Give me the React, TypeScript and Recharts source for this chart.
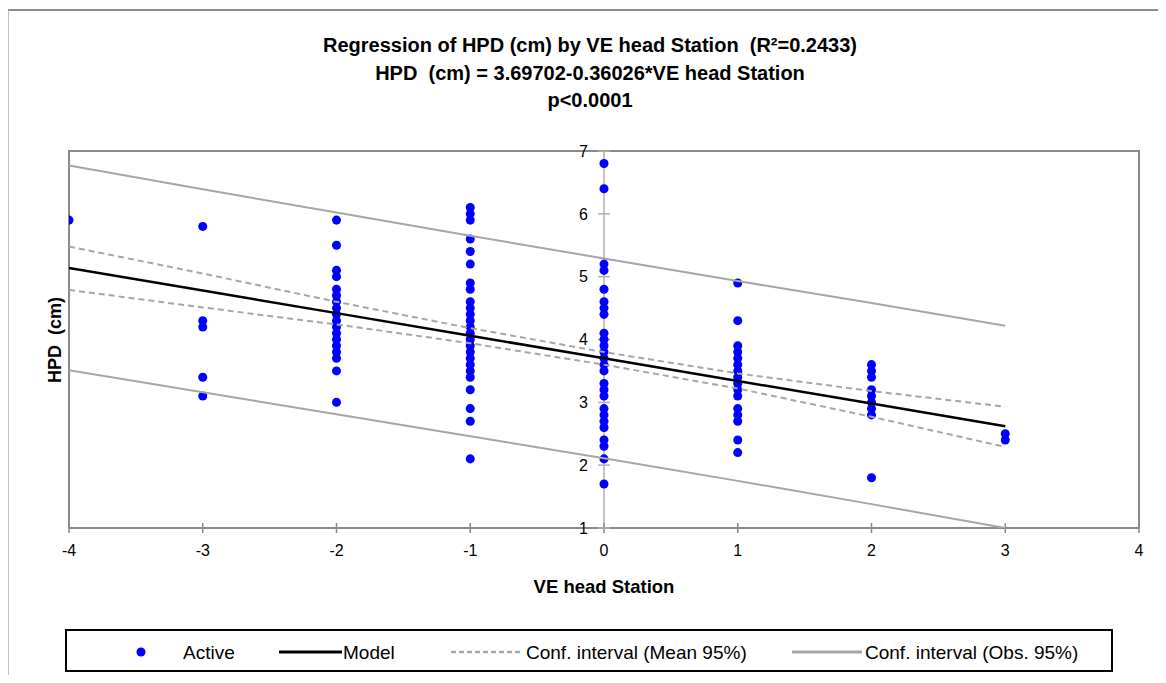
import React from 'react'
import {
  ScatterChart,
  Scatter,
  XAxis,
  YAxis,
  ZAxis,
  ReferenceArea,
  ReferenceLine,
  ReferenceDot,
} from 'recharts'

// HPD readings grouped by VE head station
const stations = [-4, -3, -2, -1, 0, 1, 2, 3]
const hpdAtM4 = [5.9]
const hpdAtM3 = [5.8, 4.3, 4.2, 3.4, 3.1]
const hpdAtM2 = [5.9, 5.5, 5.1, 5.0, 4.8, 4.7, 4.6, 4.5, 4.4, 4.3, 4.2, 4.1, 4.0, 3.9, 3.8, 3.7, 3.5, 3.0]
const hpdAtM1 = [6.1, 6.0, 5.9, 5.6, 5.4, 5.2, 4.9, 4.8, 4.6, 4.5, 4.4, 4.3, 4.2, 4.1, 4.0, 3.9, 3.8, 3.7, 3.6, 3.5, 3.4, 3.2, 2.9, 2.7, 2.1]
const hpdAt0 = [6.8, 6.4, 5.2, 5.1, 4.8, 4.6, 4.5, 4.4, 4.1, 4.0, 3.9, 3.8, 3.7, 3.6, 3.5, 3.3, 3.2, 3.1, 2.9, 2.8, 2.7, 2.6, 2.4, 2.3, 2.1, 1.7]
const hpdAt1 = [4.9, 4.3, 3.9, 3.8, 3.7, 3.6, 3.5, 3.4, 3.3, 3.2, 3.1, 2.9, 2.8, 2.7, 2.4, 2.2]
const hpdAt2 = [3.6, 3.5, 3.4, 3.2, 3.1, 3.0, 2.9, 2.8, 1.8]
const hpdAt3 = [2.5, 2.4]

// regression line and bands, read at each station
const model = [5.14, 4.78, 4.42, 4.06, 3.70, 3.34, 2.98, 2.62]
const meanUpper = [5.48, 5.05, 4.6, 4.18, 3.8, 3.46, 3.18, 2.93]
const meanLower = [4.79, 4.51, 4.24, 3.94, 3.6, 3.22, 2.77, 2.29]
const obsUpper = [6.77, 6.39, 6.02, 5.65, 5.29, 4.93, 4.58, 4.22]
const obsLower = [3.51, 3.16, 2.81, 2.46, 2.11, 1.75, 1.38, 1.0]

const xTicks = [-4, -3, -2, -1, 0, 1, 2, 3, 4]
const yTicks = [1, 2, 3, 4, 5, 6, 7]

const FONT = '"Liberation Sans", Arial, sans-serif'
const BLUE = '#0000ff'
const GRAY = '#a6a6a6'
const AXIS = '#898989'

const columns = [hpdAtM4, hpdAtM3, hpdAtM2, hpdAtM1, hpdAt0, hpdAt1, hpdAt2, hpdAt3]
const points = columns.flatMap((vals, i) => vals.map((y) => ({ x: stations[i], y })))
const toLine = (ys: number[]) => stations.map((x, i) => ({ x, y: ys[i] }))

const NoShape = () => <g />

const LegendBox = () => (
  <div
    style={{
      position: 'absolute',
      left: 65,
      top: 629,
      width: 1048,
      height: 43,
      border: '2px solid #000',
      boxSizing: 'border-box',
    }}
  >
    <svg width={1048} height={43} style={{ position: 'absolute', left: -2, top: -2 }}>
      <circle cx={76} cy={23} r={4.5} fill={BLUE} />
      <line x1={214} x2={277} y1={23} y2={23} stroke="#000" strokeWidth={3} />
      <line x1={386} x2={455} y1={23} y2={23} stroke={GRAY} strokeWidth={2.5} strokeDasharray="5 3" />
      <line x1={727} x2={797} y1={23} y2={23} stroke={GRAY} strokeWidth={3} />
      <text x={118} y={30} fontFamily={FONT} fontSize={19}>Active</text>
      <text x={278} y={30} fontFamily={FONT} fontSize={19}>Model</text>
      <text x={461} y={30} fontFamily={FONT} fontSize={19}>Conf. interval (Mean 95%)</text>
      <text x={800} y={30} fontFamily={FONT} fontSize={19}>Conf. interval (Obs. 95%)</text>
    </svg>
  </div>
)

export default function App() {
  const titleStyle: React.CSSProperties = {
    position: 'absolute',
    left: 0,
    width: 1180,
    textAlign: 'center',
    fontFamily: FONT,
    fontWeight: 'bold',
    fontSize: 20,
    lineHeight: '28px',
    whiteSpace: 'pre',
  }
  return (
    <div style={{ position: 'relative', width: 1166, height: 683, margin: -8, overflow: 'hidden', background: '#fff' }}>
      {/* outer chart frame, cropped at right and bottom */}
      <div
        style={{
          position: 'absolute',
          left: 7,
          top: 9,
          width: 1300,
          height: 800,
          borderTop: '2px solid #8c8c8c',
          borderLeft: '2px solid #bfbfbf',
        }}
      />
      <div style={{ ...titleStyle, top: 31 }}>Regression of HPD (cm) by VE head Station  (R²=0.2433)</div>
      <div style={{ ...titleStyle, top: 59 }}>HPD  (cm) = 3.69702-0.36026*VE head Station</div>
      <div style={{ ...titleStyle, top: 86 }}>p&lt;0.0001</div>
      <div
        style={{
          position: 'absolute',
          left: 55,
          top: 340,
          transform: 'translate(-50%, -50%) rotate(-90deg)',
          fontFamily: FONT,
          fontWeight: 'bold',
          fontSize: 18,
          whiteSpace: 'pre',
        }}
      >
        HPD  (cm)
      </div>

      <div style={{ position: 'absolute', left: 0, top: 0 }}>
        <ScatterChart width={1166} height={683} margin={{ top: 151, right: 27, bottom: 125, left: 69 }}>
          <XAxis
            type="number"
            dataKey="x"
            domain={[-4, 4]}
            ticks={xTicks}
            allowDataOverflow
            axisLine={false}
            tickLine={false}
            tickSize={6}
            tickMargin={11}
            tick={{ fontSize: 16, fill: '#000', fontFamily: FONT }}
            height={30}
            label={{
              value: 'VE head Station',
              position: 'bottom',
              offset: 22,
              fontSize: 18.5,
              fontWeight: 'bold',
              fill: '#000',
              fontFamily: FONT,
            }}
          />
          <YAxis type="number" dataKey="y" domain={[1, 7]} ticks={yTicks} allowDataOverflow hide />
          <ZAxis range={[68, 68]} />

          <ReferenceArea x1={-4} x2={4} y1={1} y2={7} fill="none" stroke={AXIS} strokeWidth={2} />
          <ReferenceLine x={0} stroke="#b0b0b0" strokeWidth={1.5} />
          {xTicks.map((t) => (
            <ReferenceLine
              key={`xt${t}`}
              segment={[{ x: t, y: 0.92 }, { x: t, y: 1.08 }]}
              stroke={AXIS}
              strokeWidth={1.5}
              ifOverflow="visible"
            />
          ))}
          {yTicks.map((t) => (
            <ReferenceLine
              key={`yt${t}`}
              segment={[{ x: -0.045, y: t }, { x: 0.045, y: t }]}
              stroke="#b0b0b0"
              strokeWidth={1.5}
              ifOverflow="visible"
            />
          ))}
          {yTicks.map((t) => (
            <ReferenceDot
              key={`yl${t}`}
              x={0}
              y={t}
              r={1}
              fill="none"
              stroke="none"
              ifOverflow="visible"
              label={{ value: String(t), position: 'left', offset: 15, fontSize: 16, fill: '#000', fontFamily: FONT }}
            />
          ))}

          <Scatter name="Active" data={points} fill={BLUE} isAnimationActive={false} />
          <Scatter
            name="Conf. interval (Obs. 95%) upper"
            data={toLine(obsUpper)}
            shape={NoShape}
            line={{ stroke: GRAY, strokeWidth: 2 }}
            isAnimationActive={false}
          />
          <Scatter
            name="Conf. interval (Obs. 95%) lower"
            data={toLine(obsLower)}
            shape={NoShape}
            line={{ stroke: GRAY, strokeWidth: 2 }}
            isAnimationActive={false}
          />
          <Scatter
            name="Conf. interval (Mean 95%) upper"
            data={toLine(meanUpper)}
            shape={NoShape}
            line={{ stroke: GRAY, strokeWidth: 2, strokeDasharray: '6 4' }}
            isAnimationActive={false}
          />
          <Scatter
            name="Conf. interval (Mean 95%) lower"
            data={toLine(meanLower)}
            shape={NoShape}
            line={{ stroke: GRAY, strokeWidth: 2, strokeDasharray: '6 4' }}
            isAnimationActive={false}
          />
          <Scatter
            name="Model"
            data={toLine(model)}
            shape={NoShape}
            line={{ stroke: '#000', strokeWidth: 2.5 }}
            isAnimationActive={false}
          />
        </ScatterChart>
      </div>
      <LegendBox />
    </div>
  )
}
